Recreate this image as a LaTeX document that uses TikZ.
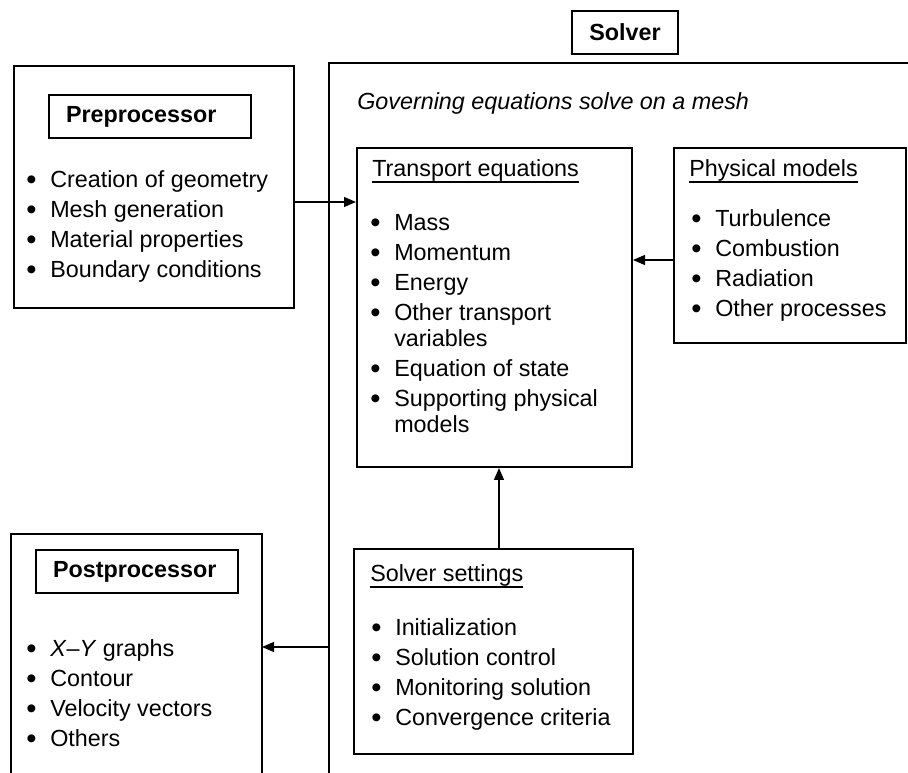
\documentclass[tikz,border=0pt]{standalone}
\usepackage{fontspec}
\setmainfont{Liberation Sans}
\usetikzlibrary{calc,arrows.meta}
\newcommand\fnt{\fontsize{17.5}{22.5}\selectfont}
\newcommand\bl{\makebox[18pt][l]{\strut\raisebox{-1.6pt}{\scalebox{1.25}{\textbullet}}}}
\newcommand\nobl{\makebox[18pt][l]{\strut}}
\newlength\ulw
\newcommand\ul[1]{\settowidth\ulw{#1}\rlap{\rule[-4.8pt]{\ulw}{1.7pt}}#1}

\begin{document}
\begin{tikzpicture}
  [x=0.75pt, y=-0.75pt,
   every node/.style = {font=\fnt},
   panel/.style = {
     draw, line width=1.5pt, anchor=north west, inner sep=0pt
   },
   titlebox/.style = {
     panel, text width=126pt, inner xsep=12.75pt,
     minimum height=32.25pt, font=\fnt\bfseries
   },
   listtext/.style = {
     anchor=north west, inner sep=0pt, align=left
   },
   headtext/.style = {
     anchor=base west, inner sep=0pt
   },
   solverline/.style = {
     line width=1.5pt
   },
   wire/.style = {
     line width=0.9pt, -{Triangle[length=9pt, width=7.5pt]}
   }]

  \useasboundingbox (0,0) rectangle (908,773);

  % Solver frame and its heading.
  \node[panel, minimum width=79.5pt, minimum height=32.25pt, font=\fnt\bfseries] (solver) at (571,10) {Solver};
  \draw[solverline] (908,63) -| (329,773);
  \coordinate (solverL) at (329,647);
  \node[headtext, font=\fnt\itshape] (gov) at (357,110) {Governing equations solve on a mesh};

	% Preprocessor
	\node[panel, minimum width=210pt, minimum height=181.5pt] (pre) at (13,65) {};
	\node[titlebox] (pretitle) at (48,94) {Preprocessor};
	\node[listtext] (prelist) at (26,166) {\bl Creation of geometry\\ \bl Mesh generation\\ \bl Material properties\\ \bl Boundary conditions};

	% Transport equations
	\node[panel, minimum width=206.25pt, minimum height=239.25pt] (tr) at (356,147) {};
	\node[headtext] (trtitle) at (372,177) {\ul{Transport equations}};
	\node[listtext] (trlist) at (370,209) {\bl Mass\\ \bl Momentum\\ \bl Energy\\ \bl Other transport\\[-3pt] \nobl variables\\ \bl Equation of state\\ \bl Supporting physical\\[-3pt] \nobl models};

	% Physical models
	\node[panel, minimum width=174pt, minimum height=146.25pt] (phys) at (673,147) {};
	\node[headtext] (phystitle) at (689,177) {\ul{Physical models}};
	\node[listtext] (physlist) at (691,205) {\bl Turbulence\\ \bl Combustion\\ \bl Radiation\\ \bl Other processes};

	% Solver settings
	\node[panel, minimum width=209.25pt, minimum height=153.75pt] (set) at (353,548) {};
	\node[headtext] (settitle) at (370,582) {\ul{Solver settings}};
	\node[listtext] (setlist) at (371,614) {\bl Initialization\\ \bl Solution control\\ \bl Monitoring solution\\ \bl Convergence criteria};

	% Postprocessor (open at the bottom)
	\node[panel, draw=none, minimum width=186.75pt, minimum height=179.25pt] (post) at (11,534) {};
	\draw[solverline] (post.south west) |- (post.north east) -- (post.south east);
	\node[titlebox] (posttitle) at (35,549) {Postprocessor};
	\node[listtext] (postlist) at (26,635) {\bl \textit{X}–\textit{Y} graphs\\ \bl Contour\\ \bl Velocity vectors\\ \bl Others};

	% Draw all arrows.
	\coordinate (prearr) at ($(pre.east)+(0,15)$);
	\coordinate (physarr) at ($(phys.west)+(0,14.5)$);
	\coordinate (setarr) at ($(set.north)+(5.5,0)$);
	\draw[wire] (prearr) -- (prearr -| tr.west);
	\draw[wire] (physarr) -- (physarr -| tr.east);
	\draw[wire] (setarr) -- (setarr |- tr.south);
	\draw[wire] (solverL) -- (solverL -| post.east);

\end{tikzpicture}
\end{document}
